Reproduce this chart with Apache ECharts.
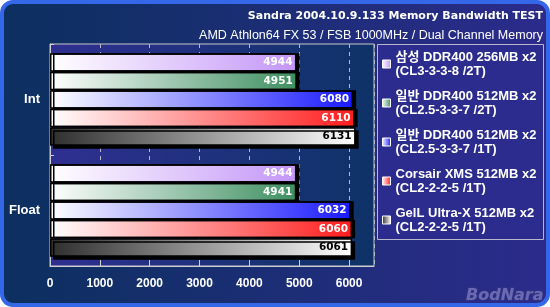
<!DOCTYPE html>
<html><head><meta charset="utf-8">
<script src="https://cdn.jsdelivr.net/npm/echarts@6/dist/echarts.min.js"></script>
<style>html,body{margin:0;padding:0;background:#fff;}#c{width:550px;height:307px;}</style>
</head><body><div id="c"></div>
<script>
// ---- data ----
const categories = ['Int', 'Float'];
const seriesNames = [
  '삼성 DDR400 256MB x2\n(CL3-3-3-8 /2T)',
  '일반 DDR400 512MB x2\n(CL2.5-3-3-7 /2T)',
  '일반 DDR400 512MB x2\n(CL2.5-3-3-7 /1T)',
  'Corsair XMS 512MB x2\n(CL2-2-2-5 /1T)',
  'GelL Ultra-X 512MB x2\n(CL2-2-2-5 /1T)'
];
const intValues = [4944, 4951, 6080, 6110, 6131];
const floatValues = [4944, 4941, 6032, 6060, 6061];
const xTickLabels = [0, 1000, 2000, 3000, 4000, 5000, 6000];
const titleText = 'Sandra 2004.10.9.133 Memory Bandwidth TEST';
const subText = 'AMD Athlon64 FX 53 / FSB 1000MHz / Dual Channel Memory';

// ---- styles ----
const barGrad = [['#ffffff', '#c496f8'], ['#ffffff', '#3d8f60'], ['#ffffff', '#1a1aff'], ['#ffffff', '#ff1c1c'], ['#2e2e2e', '#ffffff']];
const labelColors = ['#ffffff', '#ffffff', '#ffffff', '#ffffff', '#000000'];
const FONT = "'Liberation Sans', 'Noto Sans CJK KR', sans-serif";

const chart = echarts.init(document.getElementById('c'), null, {renderer: 'canvas'});
const series = seriesNames.map((name, i) => ({
  name: name,
  type: 'bar',
  z: 2 + i,
  data: [intValues[i], floatValues[i]],
  barGap: '0%',
  barWidth: 18.5,
  itemStyle: {
    color: new echarts.graphic.LinearGradient(0, 0, 1, 0, [
      {offset: 0, color: barGrad[i][0]}, {offset: 1, color: barGrad[i][1]}]),
    borderColor: '#000', borderWidth: 1.5,
    shadowColor: '#000', shadowBlur: 0, shadowOffsetX: 3,
    shadowOffsetY: i === seriesNames.length - 1 ? 3 : 0
  },
  label: {
    show: true, position: 'insideRight', distance: 4,
    color: labelColors[i], fontFamily: 'DejaVu Sans', fontWeight: 'bold', fontSize: 10.5
  }
}));

chart.setOption({
  animation: false,
  backgroundColor: 'transparent',
  graphic: [
    {type: 'rect', z: -10, silent: true,
     shape: {x: 2, y: 2, width: 546, height: 303, r: 11},
     style: {fill: new echarts.graphic.LinearGradient(0, 0, 1, 0, [
       {offset: 0, color: '#0c305f'}, {offset: 1, color: '#2c2b8c'}]),
       stroke: '#3568e8', lineWidth: 4}},
    {type: 'rect', z: -9, silent: true,
     shape: {x: 377.5, y: 44.5, width: 166, height: 195},
     style: {fill: '#2c2c8e', stroke: '#b8b8cc', lineWidth: 1}},
    {type: 'text', z: 5, silent: true, right: 6, bottom: 3,
     style: {text: 'BodNara', font: "italic bold 16px 'DejaVu Sans'", fill: '#6a6ab4', stroke: '#3c3c80', lineWidth: 1}}
  ],
  title: [
    {text: titleText, right: 7, top: 9, padding: 0,
     textStyle: {color: '#fff', fontFamily: "'DejaVu Sans', sans-serif", fontWeight: 'bold', fontSize: 11, lineHeight: 14}},
    {text: subText, right: 7, top: 28, padding: 0,
     textStyle: {color: '#fff', fontFamily: FONT, fontWeight: 'normal', fontSize: 12.5, lineHeight: 15}}
  ],
  legend: {
    left: 382, top: 43, orient: 'vertical', padding: 0, itemGap: -3,
    itemWidth: 8, itemHeight: 8, icon: 'rect',
    itemStyle: {borderColor: '#ffffff', borderWidth: 1},
    textStyle: {color: '#fff', fontFamily: FONT, fontWeight: 'bold', fontSize: 13, lineHeight: 14, padding: [14, 0, 0, 0]},
    data: seriesNames
  },
  grid: {
    left: 50, right: 176, top: 44, bottom: 41, show: true,
    borderColor: '#c8c8c8', borderWidth: 1,
    backgroundColor: new echarts.graphic.LinearGradient(0, 0, 1, 0, [
      {offset: 0, color: '#2f2f92'}, {offset: 1, color: '#0e3367'}])
  },
  xAxis: {
    type: 'value', min: xTickLabels[0], max: 6500, interval: xTickLabels[1] - xTickLabels[0],
    axisLine: {show: true, lineStyle: {color: '#d0d0d0'}},
    axisTick: {show: true, inside: true, length: 6, lineStyle: {color: '#d0d0d0'}},
    splitLine: {show: true, lineStyle: {color: '#b8b8c8', type: [4, 4]}},
    axisLabel: {color: '#fff', fontFamily: FONT, fontWeight: 'bold', fontSize: 12, margin: 12, showMaxLabel: false,
      formatter: v => xTickLabels.indexOf(v) >= 0 ? String(v) : ''}
  },
  yAxis: {
    type: 'category', data: categories, inverse: true,
    axisLine: {show: true, lineStyle: {color: '#d0d0d0'}},
    axisTick: {show: true, inside: true, length: 4, lineStyle: {color: '#d0d0d0'}},
    axisLabel: {color: '#fff', fontFamily: FONT, fontWeight: 'bold', fontSize: 13, margin: 10}
  },
  series: series
});
</script></body></html>
